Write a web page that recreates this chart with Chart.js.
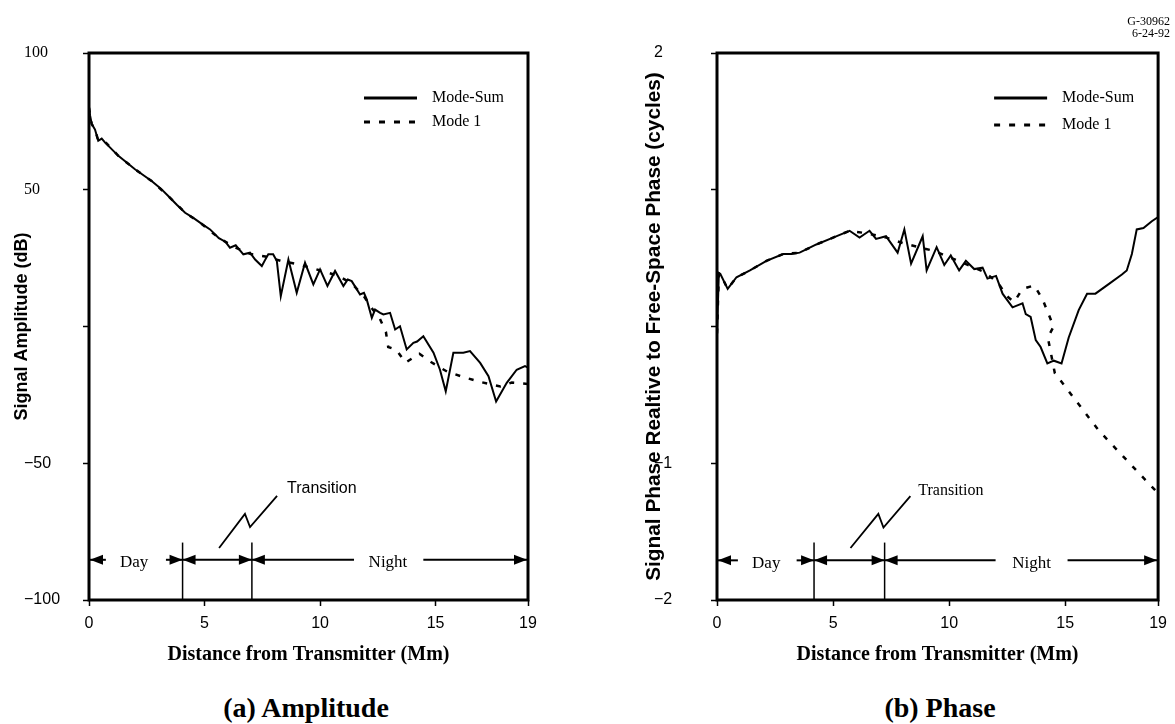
<!DOCTYPE html>
<html><head><meta charset="utf-8">
<script src="https://cdn.jsdelivr.net/npm/chart.js@4/dist/chart.umd.min.js"></script>
<style>
html,body{margin:0;padding:0;background:#fff;width:1175px;height:724px;overflow:hidden;position:relative}
.box{position:absolute;top:0;height:680px}
#leftBox{left:0;width:600px}
#rightBox{left:600px;width:575px}
.cap{position:absolute;font-family:"Liberation Serif",serif;font-weight:bold;font-size:28px;text-align:center;width:400px;line-height:30px;top:693px;color:#000}
.code{position:absolute;right:5px;font-family:"Liberation Serif",serif;font-size:12px;line-height:12px;text-align:right;color:#000}
</style></head><body>
<div id="leftBox" class="box"><canvas id="amp"></canvas></div>
<div id="rightBox" class="box"><canvas id="phase"></canvas></div>
<div class="cap" style="left:106px">(a) Amplitude</div>
<div class="cap" style="left:740px">(b) Phase</div>
<div class="code" style="top:15px">G-30962</div>
<div class="code" style="top:27px">6-24-92</div>
<script>
const SERIF = '"Liberation Serif", "Times New Roman", serif';
const SANS = '"Liberation Sans", Arial, sans-serif';

const seriesNames = ['Mode-Sum', 'Mode 1'];
const xTickValues = [0, 5, 10, 15, 19];
const ampTickValues = [-100, -50, 0, 50, 100];
const ampTickLabels = ['\u2212100', '\u221250', '', '50', '100'];
const phaseTickValues = [-2, -1, 0, 1, 2];
const phaseTickLabels = ['\u22122', '\u22121', '', '', '2'];

// [distance (Mm), amplitude (dB)]
const ampModeSum = [[0,80],[0.05,77],[0.12,74],[0.26,72],[0.4,67.9],[0.55,68.7],[0.69,67.3],[1.27,62.4],[1.99,57.5],[2.71,53.2],[3.1,50.5],[3.43,47.7],[3.8,44.5],[4.16,41.6],[4.5,39.8],[4.88,37.5],[5.24,35.5],[5.62,32.3],[5.9,31],[6.1,28.8],[6.35,29.7],[6.68,26.4],[6.97,27],[7.19,24.5],[7.48,22.1],[7.6,24],[7.76,26.4],[7.97,26.4],[8.13,23.9],[8.3,11.1],[8.63,24.5],[8.99,12.3],[9.35,23.3],[9.71,15.4],[10.0,20.9],[10.32,14.8],[10.65,20.3],[11.01,14.8],[11.2,17.2],[11.37,16.6],[11.73,11.7],[11.9,12.3],[12.02,9.9],[12.24,3.2],[12.38,6.2],[12.6,5],[12.74,4.4],[13.03,5.0],[13.25,-1.1],[13.46,0.1],[13.75,-8.4],[14.04,-6.0],[14.2,-5.5],[14.47,-3.6],[14.91,-9.6],[15.19,-15.8],[15.44,-23.7],[15.77,-9.6],[16.2,-9.6],[16.49,-9.0],[16.93,-13.3],[17.29,-18.2],[17.62,-27.4],[18.08,-20.6],[18.51,-15.8],[18.87,-14.5],[19,-15]];
const ampMode1 = [[0,80],[0.05,77],[0.12,74],[0.26,72],[0.4,68],[0.7,67.5],[1.27,62.4],[1.99,57.5],[2.71,53.2],[3.43,47.7],[4.16,41.6],[4.88,37.5],[5.6,32.5],[6.3,29],[7.0,26.5],[7.7,25.5],[8.3,24],[9.0,22.8],[9.6,21.5],[10.2,20],[10.8,18.5],[11.4,15.5],[11.9,11],[12.3,6],[12.5,4.5],[12.85,-2],[12.95,-7.5],[13.3,-8.5],[13.7,-13.2],[14.3,-10],[14.8,-13],[15.5,-16.5],[16.2,-18.5],[17.0,-20.4],[17.8,-21.9],[18.3,-20.5],[19,-21]];

// [distance (Mm), phase (cycles)]
const phaseModeSum = [[0,-0.05],[0.08,0.39],[0.14,0.385],[0.46,0.275],[0.84,0.36],[1.42,0.41],[2.13,0.48],[2.85,0.53],[3.2,0.53],[3.56,0.54],[4.28,0.6],[5.0,0.65],[5.71,0.7],[6.14,0.65],[6.57,0.70],[6.85,0.64],[7.28,0.66],[7.78,0.54],[8.07,0.71],[8.36,0.46],[8.86,0.66],[9.03,0.41],[9.46,0.58],[9.79,0.45],[10.07,0.52],[10.43,0.41],[10.72,0.48],[11.08,0.42],[11.44,0.43],[11.65,0.35],[12.02,0.37],[12.3,0.24],[12.73,0.14],[13.16,0.17],[13.3,0.09],[13.51,0.07],[13.73,-0.10],[13.94,-0.15],[14.23,-0.27],[14.51,-0.25],[14.84,-0.27],[15.15,-0.08],[15.58,0.12],[15.94,0.24],[16.3,0.24],[16.87,0.31],[17.44,0.38],[17.65,0.41],[17.87,0.53],[18.08,0.71],[18.37,0.72],[18.73,0.77],[19,0.80]];
const phaseMode1 = [[0,-0.05],[0.08,0.39],[0.14,0.385],[0.46,0.275],[0.84,0.36],[1.42,0.41],[2.13,0.48],[2.85,0.53],[3.56,0.54],[4.28,0.6],[5.0,0.65],[5.71,0.7],[6.5,0.68],[7.3,0.65],[8.0,0.61],[8.7,0.58],[9.4,0.55],[10.1,0.5],[10.8,0.45],[11.5,0.40],[12.1,0.32],[12.5,0.22],[12.8,0.18],[13.16,0.275],[13.67,0.30],[14.02,0.20],[14.5,0.0],[14.25,-0.08],[14.55,-0.34],[15.0,-0.44],[16.44,-0.76],[17.94,-1.03],[19,-1.22]];

// annotation anchors in data units
const ampNotes = {
  arrowY: -85.3, lineTop: -79, bounds: [4.05, 7.05],
  daySeg: [0, 0.73], dayLead: [3.33, 4.05], nightSeg: [7.05, 11.47], nightTail: [14.47, 19],
  dayText: 1.95, nightText: 12.94,
  zig: [[5.63,-81],[6.75,-68.5],[6.97,-73.3],[8.14,-61.9]],
  transition: [8.57, -59.3], transFont: SANS
};
const phaseNotes = {
  arrowY: -1.71, lineTop: -1.58, bounds: [4.18, 7.22],
  daySeg: [0, 0.9], dayLead: [3.43, 4.18], nightSeg: [7.22, 12.0], nightTail: [15.1, 19],
  dayText: 2.12, nightText: 13.55,
  zig: [[5.75,-1.62],[6.95,-1.37],[7.17,-1.47],[8.33,-1.24]],
  transition: [8.67, -1.2], transFont: SERIF
};

function head(ctx, x, y, dir) {
  const L = 13, W = 5;
  ctx.beginPath();
  ctx.moveTo(x, y);
  ctx.lineTo(x - dir * L, y - W);
  ctx.lineTo(x - dir * L, y + W);
  ctx.closePath();
  ctx.fill();
}

const annotatePlugin = {
  id: 'annotate',
  afterDatasetsDraw(chart, args, opts) {
    const {ctx, chartArea: ca, scales: {x, y}} = chart;
    const n = opts.notes;
    ctx.save();
    ctx.strokeStyle = '#000'; ctx.fillStyle = '#000';
    ctx.lineWidth = 3; ctx.setLineDash([]);
    ctx.strokeRect(ca.left, ca.top, ca.right - ca.left, ca.bottom - ca.top);
    chart.data.datasets.forEach((ds, i) => {
      const yy = ca.top + 45 + i * opts.legendGap;
      ctx.lineWidth = 3;
      ctx.setLineDash(ds.borderDash && ds.borderDash.length ? [6, 9] : []);
      ctx.beginPath(); ctx.moveTo(ca.right - 164, yy); ctx.lineTo(ca.right - 111, yy); ctx.stroke();
      ctx.setLineDash([]);
      ctx.font = '16px ' + SERIF; ctx.textAlign = 'left'; ctx.textBaseline = 'middle';
      ctx.fillText(ds.label, ca.right - 96, yy);
    });
    const ay = y.getPixelForValue(n.arrowY);
    const px = v => x.getPixelForValue(v);
    ctx.lineWidth = 2; ctx.setLineDash([]);
    [n.daySeg, n.dayLead, n.bounds, n.nightSeg, n.nightTail].forEach(s => {
      ctx.beginPath(); ctx.moveTo(px(s[0]), ay); ctx.lineTo(px(s[1]), ay); ctx.stroke();
    });
    head(ctx, px(n.daySeg[0]) + 1, ay, -1);
    head(ctx, px(n.dayLead[1]), ay, 1);
    head(ctx, px(n.bounds[0]), ay, -1);
    head(ctx, px(n.bounds[1]), ay, 1);
    head(ctx, px(n.nightSeg[0]), ay, -1);
    head(ctx, px(n.nightTail[1]) - 1, ay, 1);
    ctx.lineWidth = 1.5;
    n.bounds.forEach(b => {
      ctx.beginPath(); ctx.moveTo(px(b), y.getPixelForValue(n.lineTop)); ctx.lineTo(px(b), ca.bottom); ctx.stroke();
    });
    ctx.font = '17px ' + SERIF; ctx.textAlign = 'center'; ctx.textBaseline = 'middle';
    ctx.fillText('Day', px(n.dayText), ay + 3);
    ctx.fillText('Night', px(n.nightText), ay + 3);
    ctx.lineWidth = 1.8;
    ctx.beginPath();
    n.zig.forEach((p, i) => {
      const X = px(p[0]), Y = y.getPixelForValue(p[1]);
      if (i === 0) ctx.moveTo(X, Y); else ctx.lineTo(X, Y);
    });
    ctx.stroke();
    ctx.font = '16px ' + n.transFont; ctx.textAlign = 'left';
    ctx.fillText('Transition', px(n.transition[0]), y.getPixelForValue(n.transition[1]));
    ctx.restore();
  }
};

function makeChart(id, dataSum, dataM1, cfg) {
  return new Chart(document.getElementById(id), {
    type: 'line',
    data: {
      datasets: [
        {label: seriesNames[0], data: dataSum, borderColor: '#000', borderWidth: 2, pointRadius: 0, tension: 0, order: 0, fill: false},
        {label: seriesNames[1], data: dataM1, borderColor: '#000', borderWidth: 2.5, borderDash: [5, 9], pointRadius: 0, tension: 0, order: 1, fill: false}
      ]
    },
    options: {
      responsive: true, maintainAspectRatio: false, animation: false,
      layout: {padding: cfg.padding},
      plugins: {legend: {display: false}, tooltip: {enabled: false}, title: {display: false},
        annotate: {notes: cfg.notes, legendGap: cfg.legendGap}},
      scales: {
        x: {
          type: 'linear', min: 0, max: 19,
          afterBuildTicks: s => { s.ticks = xTickValues.map(v => ({value: v})); },
          afterFit: s => { s.height = 80; },
          grid: {display: true, drawOnChartArea: false, drawTicks: true, tickLength: 6, tickWidth: 1.5, tickColor: '#000'},
          border: {display: false},
          ticks: {color: '#000', padding: 8, maxRotation: 0, font: {family: SANS, size: 16}},
          title: {display: true, text: 'Distance from Transmitter (Mm)', color: '#000',
            font: {family: SERIF, size: 20, weight: 'bold'}, padding: {top: 0, bottom: 13}}
        },
        y: {
          type: 'linear', min: cfg.tickValues[0], max: cfg.tickValues[cfg.tickValues.length - 1],
          afterBuildTicks: s => { s.ticks = cfg.tickValues.map(v => ({value: v})); },
          afterFit: s => { s.width = cfg.yWidth; },
          grid: {display: true, drawOnChartArea: false, drawTicks: true, tickLength: 6, tickWidth: 1.5, tickColor: '#000'},
          border: {display: false},
          ticks: {
            color: '#000', padding: 4, crossAlign: 'far',
            callback: v => { const i = cfg.tickValues.indexOf(v); return i >= 0 ? cfg.tickLabels[i] : ''; },
            font: c => ({family: (c.tick && cfg.serifPositive && c.tick.value > 0) ? SERIF : SANS, size: 16})
          },
          title: {display: true, text: cfg.yTitle, color: '#000',
            font: {family: SANS, size: cfg.yTitleSize, weight: 'bold'}, padding: {top: cfg.yTitlePad, bottom: 0}}
        }
      }
    },
    plugins: [annotatePlugin]
  });
}

makeChart('amp', ampModeSum, ampMode1, {
  padding: {left: 24, top: 53, right: 72, bottom: 0},
  yWidth: 65, tickValues: ampTickValues, tickLabels: ampTickLabels, serifPositive: true,
  yTitle: 'Signal Amplitude (dB)', yTitleSize: 18, yTitlePad: -12.8,
  notes: ampNotes, legendGap: 24
});
makeChart('phase', phaseModeSum, phaseMode1, {
  padding: {left: 54, top: 53, right: 16, bottom: 0},
  yWidth: 63, tickValues: phaseTickValues, tickLabels: phaseTickLabels, serifPositive: false,
  yTitle: 'Signal Phase Realtive to Free-Space Phase (cycles)', yTitleSize: 20.8, yTitlePad: -12.5,
  notes: phaseNotes, legendGap: 27
});
</script>
</body></html>
